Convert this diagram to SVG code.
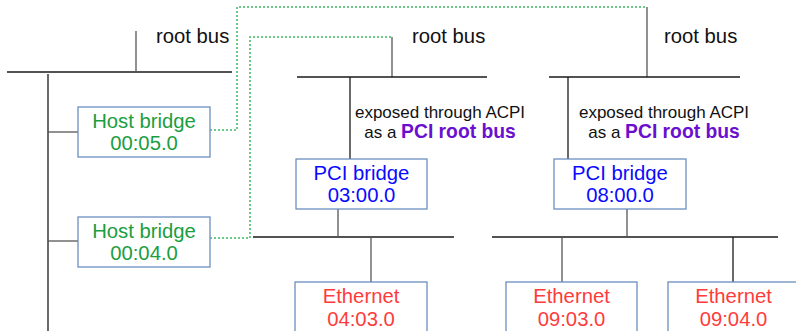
<svg xmlns="http://www.w3.org/2000/svg" width="796" height="331" viewBox="0 0 796 331">
<style>
.box{fill:#ffffff;stroke:#6c8ebf;stroke-width:1.3}
.t{font-family:"Liberation Sans",Arial,sans-serif;font-size:20.3px;text-anchor:middle}
.host{fill:#1a9e40}
.pci{fill:#0a0aff}
.eth{fill:#ff3b3b}
.lbl{font-family:"Liberation Sans",Arial,sans-serif;font-size:20.3px;fill:#111111}
.note{font-family:"Liberation Sans",Arial,sans-serif;font-size:17px;fill:#111111;text-anchor:middle}
.purple{fill:#6a0fd0;font-weight:bold;font-size:19.3px}
.bus{stroke:#1a1a1a;stroke-width:1.3;fill:none}
.stub{stroke:#555555;stroke-width:1.3;fill:none}
.dot{stroke:#3cb860;stroke-width:1.5;stroke-dasharray:2 2;fill:none}
</style>
<g id="connectors">
<line class="bus" x1="7" y1="72" x2="232" y2="72"/>
<line class="stub" x1="136" y1="31" x2="136" y2="72"/>
<line class="bus" x1="48" y1="74" x2="48" y2="331"/>
<line class="stub" x1="48" y1="132" x2="78" y2="132"/>
<line class="stub" x1="48" y1="241" x2="78" y2="241"/>
<polyline class="dot" points="210,130 237,130 237,7 647,7"/>
<polyline class="dot" points="210,238 250,238 250,37 392,37"/>
<line class="stub" x1="647" y1="7" x2="647" y2="77"/>
<line class="stub" x1="392" y1="37" x2="392" y2="77"/>
<line class="bus" x1="297" y1="77" x2="487" y2="77"/>
<line class="bus" x1="549" y1="77" x2="740" y2="77"/>
<line class="bus" x1="350" y1="77" x2="350" y2="159"/>
<line class="bus" x1="568" y1="77" x2="568" y2="159"/>
<line class="bus" x1="253" y1="237" x2="454" y2="237"/>
<line class="stub" x1="338" y1="209" x2="338" y2="237"/>
<line class="stub" x1="371" y1="237" x2="371" y2="282"/>
<line class="bus" x1="492" y1="237" x2="778" y2="237"/>
<line class="stub" x1="627" y1="209" x2="627" y2="237"/>
<line class="stub" x1="562" y1="237" x2="562" y2="282"/>
<line class="bus" x1="733" y1="237" x2="733" y2="282"/>
</g>
<g id="labels">
<text class="lbl" x="156" y="43">root bus</text>
<text class="lbl" x="412" y="43">root bus</text>
<text class="lbl" x="664" y="43">root bus</text>
<text class="note" x="440" y="118">exposed through ACPI</text>
<text class="note" x="440" y="138">as a <tspan class="purple">PCI root bus</tspan></text>
<text class="note" x="664" y="118">exposed through ACPI</text>
<text class="note" x="664" y="138">as a <tspan class="purple">PCI root bus</tspan></text>
</g>
<g id="host1">
<rect class="box" x="78" y="107" width="132" height="50"/>
<text class="t host" x="144" y="128">Host bridge</text>
<text class="t host" x="144" y="150">00:05.0</text>
</g>
<g id="host2">
<rect class="box" x="78" y="217" width="132" height="50"/>
<text class="t host" x="144" y="238">Host bridge</text>
<text class="t host" x="144" y="260">00:04.0</text>
</g>
<g id="pci1">
<rect class="box" x="296" y="159" width="131" height="50"/>
<text class="t pci" x="361.5" y="180">PCI bridge</text>
<text class="t pci" x="361.5" y="202">03:00.0</text>
</g>
<g id="pci2">
<rect class="box" x="554" y="159" width="132" height="50"/>
<text class="t pci" x="620" y="180">PCI bridge</text>
<text class="t pci" x="620" y="202">08:00.0</text>
</g>
<g id="eth1">
<rect class="box" x="295" y="282" width="132" height="60"/>
<text class="t eth" x="361" y="303">Ethernet</text>
<text class="t eth" x="361" y="326">04:03.0</text>
</g>
<g id="eth2">
<rect class="box" x="506" y="282" width="131" height="60"/>
<text class="t eth" x="571.5" y="303">Ethernet</text>
<text class="t eth" x="571.5" y="326">09:03.0</text>
</g>
<g id="eth3">
<rect class="box" x="668" y="282" width="131" height="60"/>
<text class="t eth" x="733.5" y="303">Ethernet</text>
<text class="t eth" x="733.5" y="326">09:04.0</text>
</g>
</svg>
